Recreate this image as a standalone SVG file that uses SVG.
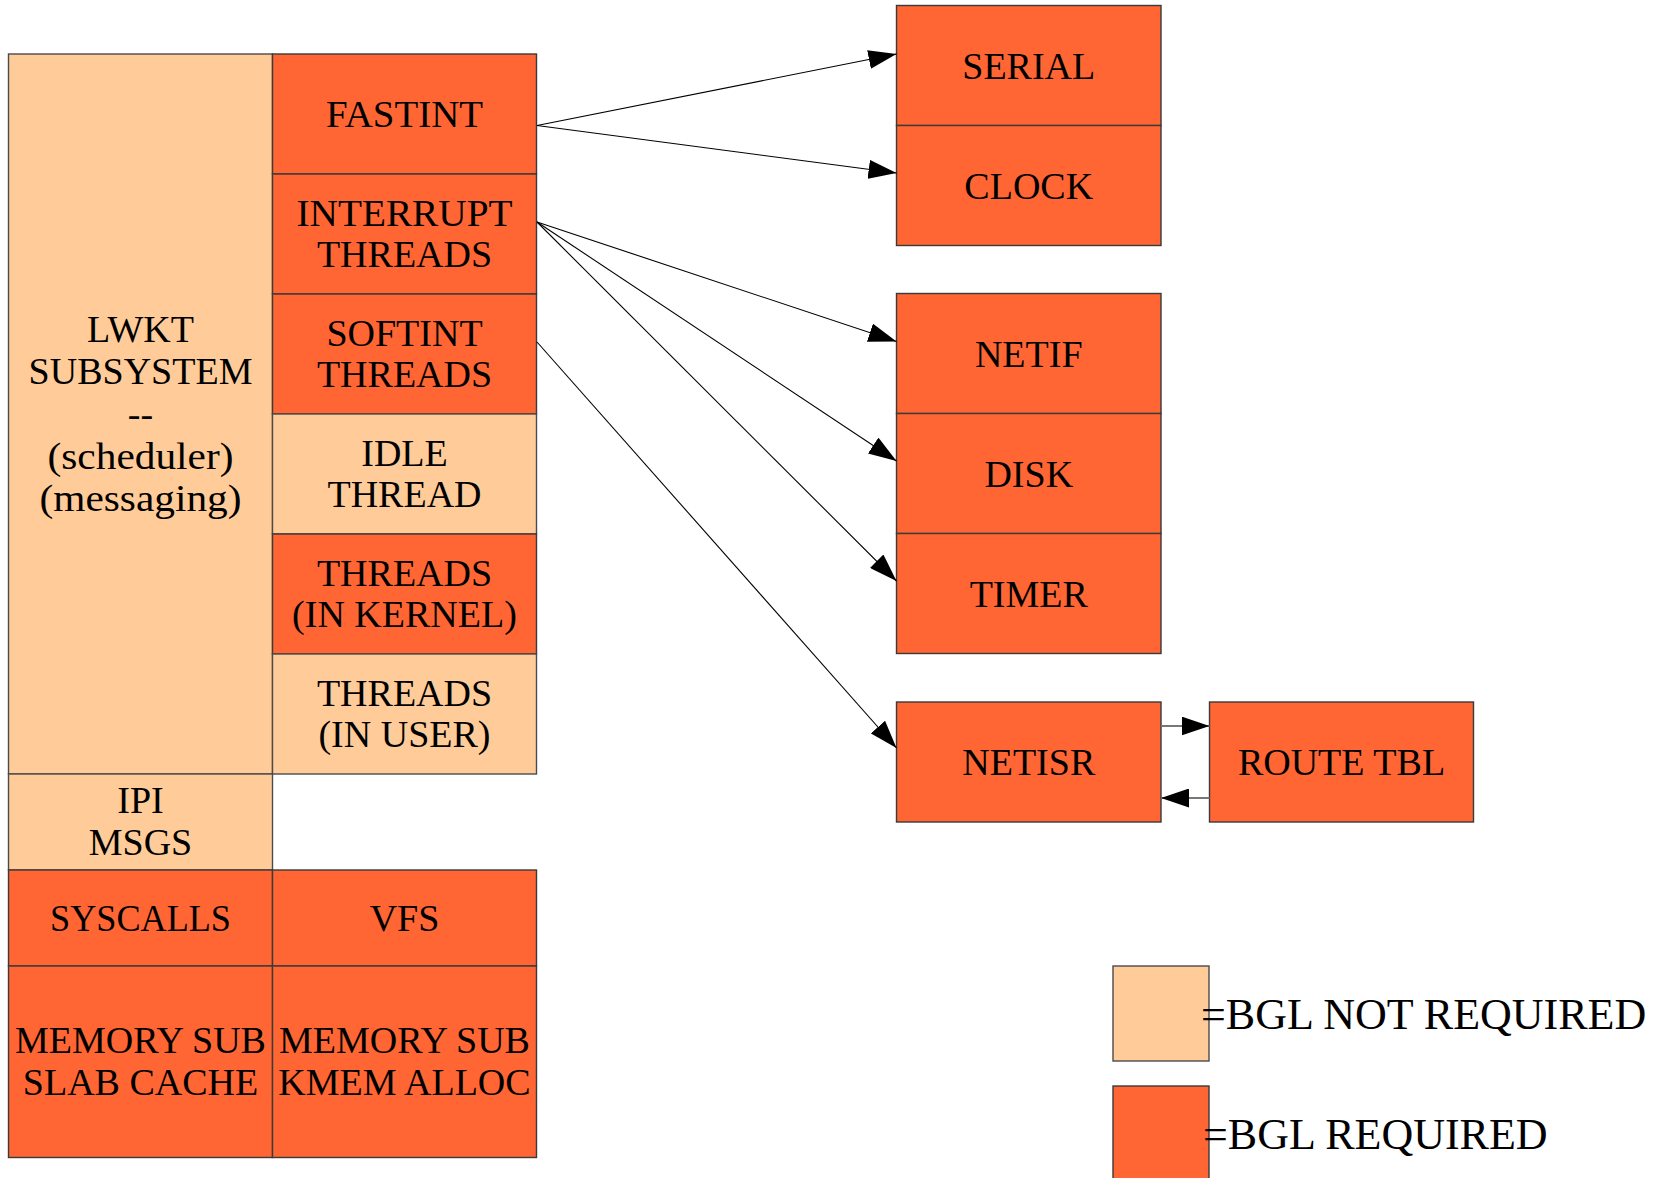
<svg xmlns="http://www.w3.org/2000/svg" width="1668" height="1178" viewBox="0 0 1668 1178">
<style>
.lt{fill:#FFCC99;stroke:#4a4a4a;stroke-width:1.4}
.dk{fill:#FF6633;stroke:#3a3a3a;stroke-width:1.4}
text{font-family:"Liberation Serif","Times New Roman",serif;font-size:38px;fill:#000;text-anchor:middle}
.lg{font-size:44px;text-anchor:start}
.c{stroke:#000;stroke-width:1.1;fill:none;marker-end:url(#ah)}
.g{stroke:#777;stroke-width:2;fill:none;marker-end:url(#ah)}
</style>
<defs>
<marker id="ah" markerUnits="userSpaceOnUse" markerWidth="28" markerHeight="19" viewBox="0 0 28 19" refX="28" refY="9.5" orient="auto">
<path d="M0,0 L28,9.5 L0,19 Z" fill="#000"/>
</marker>
</defs>
<rect width="1668" height="1178" fill="#fff"/>

<g id="lwkt"><rect class="lt" x="8.5" y="54" width="264" height="720"/>
<text x="140.5" y="341.7">LWKT</text><text x="140.5" y="384.1">SUBSYSTEM</text><text x="140.5" y="426.5">--</text><text x="140.5" y="468.9" textLength="186" lengthAdjust="spacingAndGlyphs">(scheduler)</text><text x="140.5" y="511.3" textLength="202" lengthAdjust="spacingAndGlyphs">(messaging)</text></g>
<g id="fastint"><rect class="dk" x="272.5" y="54" width="264" height="120"/><text x="404.5" y="127" textLength="157" lengthAdjust="spacingAndGlyphs">FASTINT</text></g>
<g id="interrupt"><rect class="dk" x="272.5" y="174" width="264" height="120"/><text x="404.5" y="225.5" textLength="216" lengthAdjust="spacingAndGlyphs">INTERRUPT</text><text x="404.5" y="267">THREADS</text></g>
<g id="softint"><rect class="dk" x="272.5" y="294" width="264" height="120"/><text x="404.5" y="345.5">SOFTINT</text><text x="404.5" y="387">THREADS</text></g>
<g id="idle"><rect class="lt" x="272.5" y="414" width="264" height="120"/><text x="404.5" y="465.5">IDLE</text><text x="404.5" y="507">THREAD</text></g>
<g id="tkernel"><rect class="dk" x="272.5" y="534" width="264" height="120"/><text x="404.5" y="585.5">THREADS</text><text x="404.5" y="627">(IN KERNEL)</text></g>
<g id="tuser"><rect class="lt" x="272.5" y="654" width="264" height="120"/><text x="404.5" y="705.5">THREADS</text><text x="404.5" y="747">(IN USER)</text></g>
<g id="ipi"><rect class="lt" x="8.5" y="774" width="264" height="96"/><text x="140.5" y="812.7">IPI</text><text x="140.5" y="855">MSGS</text></g>
<g id="syscalls"><rect class="dk" x="8.5" y="870" width="264" height="96"/><text x="140.5" y="930.7" textLength="181" lengthAdjust="spacingAndGlyphs">SYSCALLS</text></g>
<g id="vfs"><rect class="dk" x="272.5" y="870" width="264" height="96"/><text x="404.5" y="930.7">VFS</text></g>
<g id="memslab"><rect class="dk" x="8.5" y="966" width="264" height="191.5"/><text x="140.5" y="1053.3">MEMORY SUB</text><text x="140.5" y="1095.3">SLAB CACHE</text></g>
<g id="memkmem"><rect class="dk" x="272.5" y="966" width="264" height="191.5"/><text x="404.5" y="1053.3">MEMORY SUB</text><text x="404.5" y="1095.3">KMEM ALLOC</text></g>

<g id="serial"><rect class="dk" x="896.5" y="5.5" width="264.5" height="120"/><text x="1028.75" y="78.5">SERIAL</text></g>
<g id="clock"><rect class="dk" x="896.5" y="125.5" width="264.5" height="120"/><text x="1028.75" y="198.5">CLOCK</text></g>
<g id="netif"><rect class="dk" x="896.5" y="293.5" width="264.5" height="120"/><text x="1028.75" y="366.5">NETIF</text></g>
<g id="disk"><rect class="dk" x="896.5" y="413.5" width="264.5" height="120"/><text x="1028.75" y="486.5">DISK</text></g>
<g id="timer"><rect class="dk" x="896.5" y="533.5" width="264.5" height="120"/><text x="1028.75" y="606.5">TIMER</text></g>
<g id="netisr"><rect class="dk" x="896.5" y="702" width="264.5" height="120"/><text x="1028.75" y="775">NETISR</text></g>
<g id="routetbl"><rect class="dk" x="1209.5" y="702" width="264" height="120"/><text x="1341.5" y="775">ROUTE TBL</text></g>

<g id="connectors">
<path class="c" d="M537,125.5 L896.5,54"/>
<path class="c" d="M537,125.5 L896.5,173"/>
<path class="c" d="M537,222 L896.5,341.5"/>
<path class="c" d="M537,222 L896.5,461"/>
<path class="c" d="M537,222 L896.5,581"/>
<path class="c" d="M537,342 L896.5,748"/>
<path class="g" d="M1161,726 L1209.5,726"/>
<path class="g" d="M1209.5,798 L1161,798"/>
</g>

<g id="legend-not-required"><rect class="lt" x="1113" y="966" width="96" height="95"/><text class="lg" x="1201" y="1029">=BGL NOT REQUIRED</text></g>
<g id="legend-required"><rect class="dk" x="1113" y="1086" width="96" height="100"/><text class="lg" x="1203" y="1149">=BGL REQUIRED</text></g>
</svg>
